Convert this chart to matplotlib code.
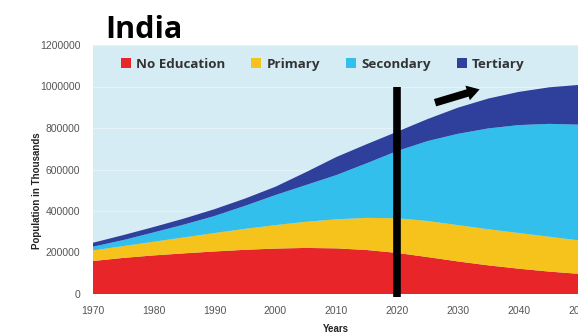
import matplotlib
matplotlib.use("Agg")
import matplotlib.pyplot as plt
from matplotlib.ticker import FuncFormatter, MultipleLocator

# datos (poblacion en miles)
anios = [1970, 1975, 1980, 1985, 1990, 1995, 2000, 2005, 2010,
         2015, 2020, 2025, 2030, 2035, 2040, 2045, 2050, 2055]
sin_educacion = [159000, 174000, 186000, 196000, 205000, 213000, 219000, 222000, 220000,
                 212000, 198000, 178000, 157000, 138000, 122000, 108000, 97000, 89000]
primaria = [51000, 57000, 66000, 77000, 89000, 101000, 113000, 126000, 140000,
            155000, 167000, 174000, 175000, 174000, 172000, 168000, 161000, 153000]
secundaria = [18000, 29000, 45000, 62000, 82000, 111000, 145000, 177000, 213000,
              263000, 324000, 385000, 440000, 486000, 520000, 544000, 558000, 566000]
terciaria = [19000, 24000, 26000, 29000, 33000, 35000, 40000, 62000, 87000,
             92000, 93000, 106000, 126000, 144000, 160000, 176000, 192000, 206000]

etiquetas = ["No Education", "Primary", "Secondary", "Tertiary"]
colores = ["#e8262a", "#f6c21c", "#32bfeb", "#2f3f9c"]

anio_linea = 2020

fig = plt.figure(figsize=(5.78, 3.35), dpi=100)
# el area del grafico sigue mas alla del borde derecho (imagen recortada)
ax = fig.add_axes([93 / 578, 41 / 335, 517 / 578, 249 / 335])
ax.set_facecolor("#d6ecf4")

ax.stackplot(anios, sin_educacion, primaria, secundaria, terciaria,
             colors=colores, labels=etiquetas, linewidth=0)

ax.set_xlim(1970, 2055)
ax.set_ylim(0, 1200000)
ax.xaxis.set_major_locator(MultipleLocator(10))
ax.yaxis.set_major_locator(MultipleLocator(200000))
ax.yaxis.set_major_formatter(FuncFormatter(lambda v, p: f"{int(v)}"))
ax.grid(axis="y", color="white", linewidth=0.8, alpha=0.4)
ax.set_axisbelow(True)
for s in ax.spines.values():
    s.set_visible(False)
ax.tick_params(length=0, labelsize=7.5, labelcolor="#555555",
               pad=9)
for lab in ax.get_xticklabels() + ax.get_yticklabels():
    lab.set_fontfamily("Liberation Sans")

# linea vertical y flecha
ax.vlines(anio_linea, -15000, 1000000, color="black", linewidth=5.5, clip_on=False, zorder=5)
ax.annotate("", xy=(2034.0, 990000), xytext=(2025.8, 918000),
            arrowprops=dict(arrowstyle="simple,head_length=0.9,head_width=1.1,tail_width=0.55",
                            color="black", lw=0), zorder=6)

fig.legend(loc="center left", bbox_to_anchor=(0.197, 0.808), ncol=4, frameon=False,
           prop={"family": "Open Sans", "weight": "bold", "size": 9.6},
           labelcolor="#333333", handlelength=0.75, handleheight=0.75,
           handletextpad=0.4, columnspacing=1.95, borderpad=0)

fig.text(105 / 578, 1 - 30 / 335, "India", fontsize=22, fontweight="bold",
         family="Open Sans", va="center", ha="left", color="black")
fig.text(37 / 578, 1 - 191 / 335, "Population in Thousands", rotation=90,
         fontsize=7, fontweight="bold", family="Liberation Sans",
         va="center", ha="center", color="#222222")
fig.text(336 / 578, 1 - 329.5 / 335, "Years", fontsize=7, fontweight="bold",
         family="Liberation Sans", va="center", ha="center", color="#222222")

plt.savefig("out.png", dpi=100)
